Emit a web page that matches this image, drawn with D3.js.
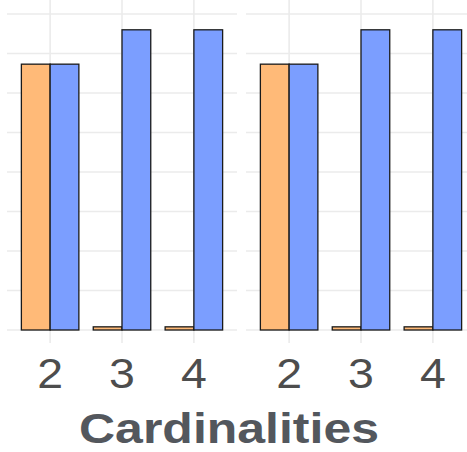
<!DOCTYPE html>
<html>
<head>
<meta charset="utf-8">
<script src="https://cdn.jsdelivr.net/npm/d3@7"></script>
<style>
  html, body { margin: 0; padding: 0; background: #fff; }
  svg { display: block; }
</style>
</head>
<body>
<svg id="chart" width="467" height="452"></svg>
<script>
// ---- data ----
const categories = ["2", "3", "4"];
const panels = ["left", "right"];
const seriesNames = ["orange", "blue"];
const orangeValues = [6.73, 0.08, 0.08];
const blueValues = [6.73, 7.6, 7.6];
const yTicks = [0, 1, 2, 3, 4, 5, 6, 7, 8];
const xTitle = "Cardinalities";

// ---- layout ----
const W = 467, H = 452;
const svg = d3.select("#chart");
const colors = { orange: "#FFBA78", blue: "#7B9EFF" };
const gridColor = "#EBEBEB";
const panelTop = -10, panelBottom = 343;
const panelRanges = [[7, 237], [246, 476]];

const y = d3.scaleLinear().domain([0, 8]).range([330, 14]);

panels.forEach((p, pi) => {
  const [x0, x1] = panelRanges[pi];
  const x = d3.scalePoint().domain(categories).range([x0, x1]).padding(0.6);
  const step = x.step();
  const barW = step * 0.4;
  const g = svg.append("g");

  g.selectAll("line.h").data(yTicks).join("line")
    .attr("x1", x0).attr("x2", x1)
    .attr("y1", d => y(d)).attr("y2", d => y(d))
    .attr("stroke", gridColor).attr("stroke-width", 1.6);
  g.selectAll("line.v").data(categories).join("line")
    .attr("x1", d => x(d)).attr("x2", d => x(d))
    .attr("y1", panelTop).attr("y2", panelBottom)
    .attr("stroke", gridColor).attr("stroke-width", 1.6);

  const rows = [];
  categories.forEach((c, i) => {
    rows.push({ c, s: seriesNames[0], v: orangeValues[i], off: -barW });
    rows.push({ c, s: seriesNames[1], v: blueValues[i], off: 0 });
  });
  g.selectAll("rect").data(rows).join("rect")
    .attr("x", d => x(d.c) + d.off)
    .attr("width", barW)
    .attr("y", d => y(d.v))
    .attr("height", d => y(0) - y(d.v))
    .attr("fill", d => colors[d.s])
    .attr("stroke", "#1a1a1a")
    .attr("stroke-width", 1.3);

  g.selectAll("text.tick").data(categories).join("text")
    .attr("transform", d => `translate(${x(d)},388) scale(1.08,1)`)
    .attr("text-anchor", "middle")
    .attr("font-family", "Liberation Sans, Arial, sans-serif")
    .attr("font-size", 43)
    .attr("fill", "#4D4D4D")
    .text(d => d);
});

svg.append("text")
  .attr("transform", "translate(229,443) scale(1.19,1)")
  .attr("text-anchor", "middle")
  .attr("font-family", "Liberation Sans, Arial, sans-serif")
  .attr("font-weight", "bold")
  .attr("font-size", 42)
  .attr("fill", "#53575D")
  .text(xTitle);
</script>
</body>
</html>
